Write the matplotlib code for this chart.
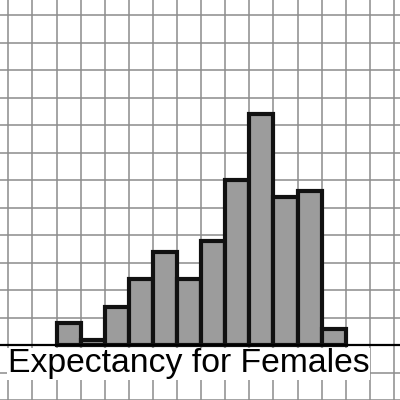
import numpy as np
from matplotlib import pyplot as plt

# bins (grid columns) and counts
bin_left = [2, 3, 4, 5, 6, 7, 8, 9, 10, 11, 12, 13]
counts = [4, 1, 7, 12, 17, 12, 19, 30, 42, 27, 28, 3]
title = "Expectancy for Females"

plt.rcParams['font.family'] = ['Liberation Sans', 'DejaVu Sans']

fig = plt.figure(figsize=(4, 4), dpi=100)
ax = fig.add_axes([0, 0, 1, 1])

ax.set_xlim(-0.344, 16.25)
ax.set_ylim(-10.0, 62.8)

# graph paper grid
for x in np.arange(0, 17):
    ax.axvline(x, color='#8c8c8c', lw=1.1, zorder=0)
for y in np.arange(-10, 65, 5):
    ax.axhline(y, color='#8c8c8c', lw=1.1, zorder=0)

ax.bar(bin_left, counts, width=1, align='edge', color='#9c9c9c',
       edgecolor='#111111', linewidth=3.0, zorder=2)

ax.axhline(0, color='black', lw=1.6, zorder=3)

ax.text(-0.02, -0.6, title, fontsize=24.3, ha='left', va='top', color='black',
        zorder=4, bbox=dict(facecolor='white', edgecolor='none', pad=0.3))

ax.axis('off')
fig.savefig('out.png', dpi=100)
